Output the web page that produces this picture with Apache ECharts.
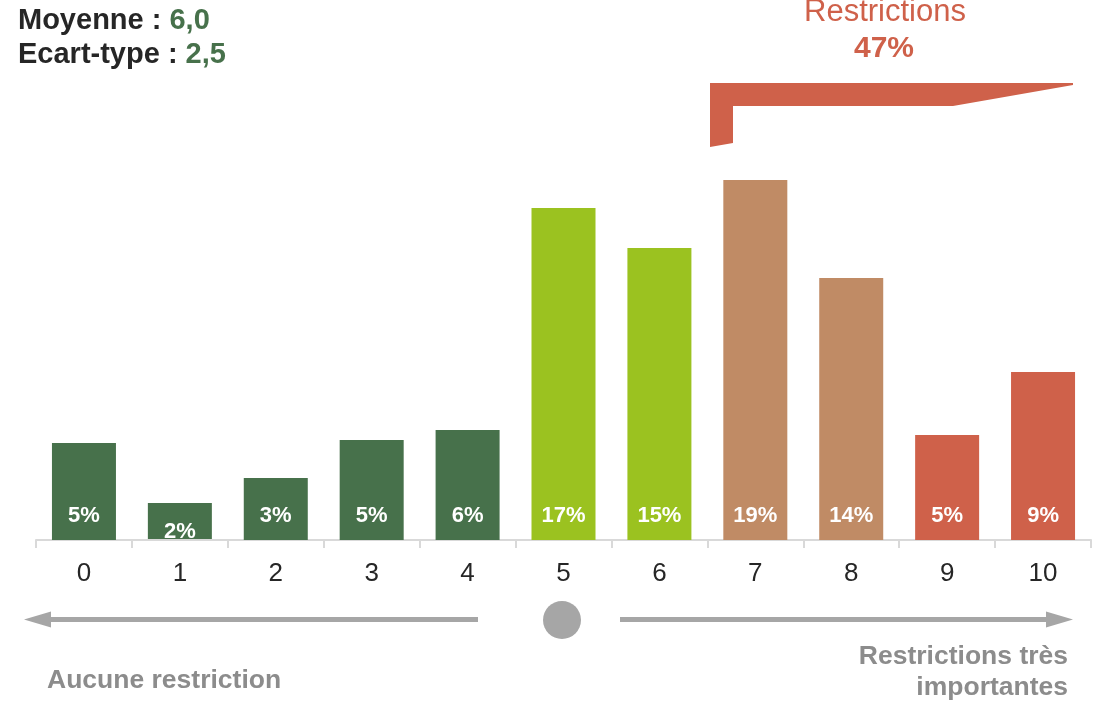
<!DOCTYPE html>
<html>
<head>
<meta charset="utf-8">
<script src="https://cdn.jsdelivr.net/npm/echarts@6/dist/echarts.min.js"></script>
<style>
    html, body { margin: 0; padding: 0; background: #fff; }
    #chart { width: 1097px; height: 702px; }
</style>
</head>
<body>
<div id="chart"></div>
<script>
// notes 0..10
const categories = ['0', '1', '2', '3', '4', '5', '6', '7', '8', '9', '10'];
// part des répondants (%)
const shares = [5.05, 1.93, 3.23, 5.21, 5.73, 17.29, 15.21, 18.75, 13.65, 5.47, 8.75];
// couleur de chaque barre
const barColors = [
    '#47714b', '#47714b', '#47714b', '#47714b', '#47714b',
    '#9bc220', '#9bc220',
    '#c08b65', '#c08b65',
    '#cf614a', '#cf614a',
];
const meanText = '6,0';
const stdText = '2,5';
const restrictionsText = '47%';

!(function (window) {
    const { echarts } = window;
    const FONT = '"Liberation Sans", Arial, sans-serif';
    const GREY = '#a6a6a6';
    const RED = '#cf614a';

    const chart = echarts.init(document.getElementById('chart'));

    const option = {
        animation: false,
        textStyle: { fontFamily: FONT },
        grid: { left: 36, right: 6, top: 60, bottom: 162 },
        xAxis: {
            type: 'category',
            data: categories,
            axisLine: { lineStyle: { color: '#d9d9d9', width: 2 } },
            axisTick: { show: true, length: 8, lineStyle: { color: '#d9d9d9', width: 2 } },
            axisLabel: { color: '#262626', fontSize: 26, margin: 21, fontFamily: FONT },
        },
        yAxis: { type: 'value', min: 0, max: 25, show: false },
        series: [{
            type: 'bar',
            barWidth: 64,
            data: shares.map((v, i) => {
                const item = { value: v, itemStyle: { color: barColors[i] } };
                // la petite barre : étiquette plus basse, coupée par l'axe
                if (i === 1) item.label = { distance: -3 };
                return item;
            }),
            label: {
                show: true,
                position: 'insideBottom',
                distance: 13,
                color: '#fff',
                fontWeight: 'bold',
                fontSize: 22,
                fontFamily: FONT,
                formatter: p => `${Math.round(p.value)}%`,
            },
        }],
        graphic: [
            {
                type: 'text',
                left: 18,
                top: 6,
                style: {
                    text: `{k|Moyenne : }{v|${meanText}}\n{k|Ecart-type : }{v|${stdText}}`,
                    rich: {
                        k: { fontSize: 29, fontWeight: 'bold', fill: '#262626', fontFamily: FONT, lineHeight: 34 },
                        v: { fontSize: 29, fontWeight: 'bold', fill: '#47714b', fontFamily: FONT, lineHeight: 34 },
                    },
                },
            },
            {
                type: 'text',
                x: 885,
                y: 12,
                style: {
                    text: 'Restrictions', fill: RED, fontSize: 31, fontFamily: FONT,
                    textAlign: 'center', textVerticalAlign: 'middle',
                },
            },
            {
                type: 'text',
                x: 884,
                y: 49,
                style: {
                    text: restrictionsText, fill: RED, fontSize: 30, fontWeight: 'bold', fontFamily: FONT,
                    textAlign: 'center', textVerticalAlign: 'middle',
                },
            },
            {
                type: 'polygon',
                shape: {
                    points: [[710, 83], [1073, 83], [1073, 85], [953, 106], [733, 106], [733, 143], [710, 147]],
                },
                style: { fill: RED },
            },
            // flèche gauche
            {
                type: 'rect',
                shape: { x: 50, y: 617, width: 428, height: 5 },
                style: { fill: GREY },
            },
            {
                type: 'polygon',
                shape: { points: [[24, 619.5], [51, 611.5], [51, 627.5]] },
                style: { fill: GREY },
            },
            // point central
            {
                type: 'circle',
                shape: { cx: 562, cy: 620, r: 19 },
                style: { fill: GREY },
            },
            // flèche droite
            {
                type: 'rect',
                shape: { x: 620, y: 617, width: 428, height: 5 },
                style: { fill: GREY },
            },
            {
                type: 'polygon',
                shape: { points: [[1073, 619.5], [1046, 611.5], [1046, 627.5]] },
                style: { fill: GREY },
            },
            {
                type: 'text',
                x: 47,
                y: 681,
                style: {
                    text: 'Aucune restriction', fill: '#8c8c8c', fontSize: 26.5, fontWeight: 'bold', fontFamily: FONT,
                    textAlign: 'left', textVerticalAlign: 'middle',
                },
            },
            {
                type: 'text',
                x: 1068,
                y: 672,
                style: {
                    text: 'Restrictions très\nimportantes', fill: '#8c8c8c', fontSize: 26.5, fontWeight: 'bold',
                    fontFamily: FONT, lineHeight: 31, textAlign: 'right', textVerticalAlign: 'middle',
                },
            },
            // masque sous la petite barre (étiquette coupée par l'axe)
            {
                type: 'rect',
                z: 100,
                shape: { x: 146, y: 541, width: 70, height: 15 },
                style: { fill: '#fff' },
            },
            {
                type: 'line',
                z: 101,
                shape: { x1: 146, y1: 540, x2: 216, y2: 540 },
                style: { stroke: '#d9d9d9', lineWidth: 2 },
            },
        ],
    };
    chart.setOption(option);
}(window));
</script>
</body>
</html>
